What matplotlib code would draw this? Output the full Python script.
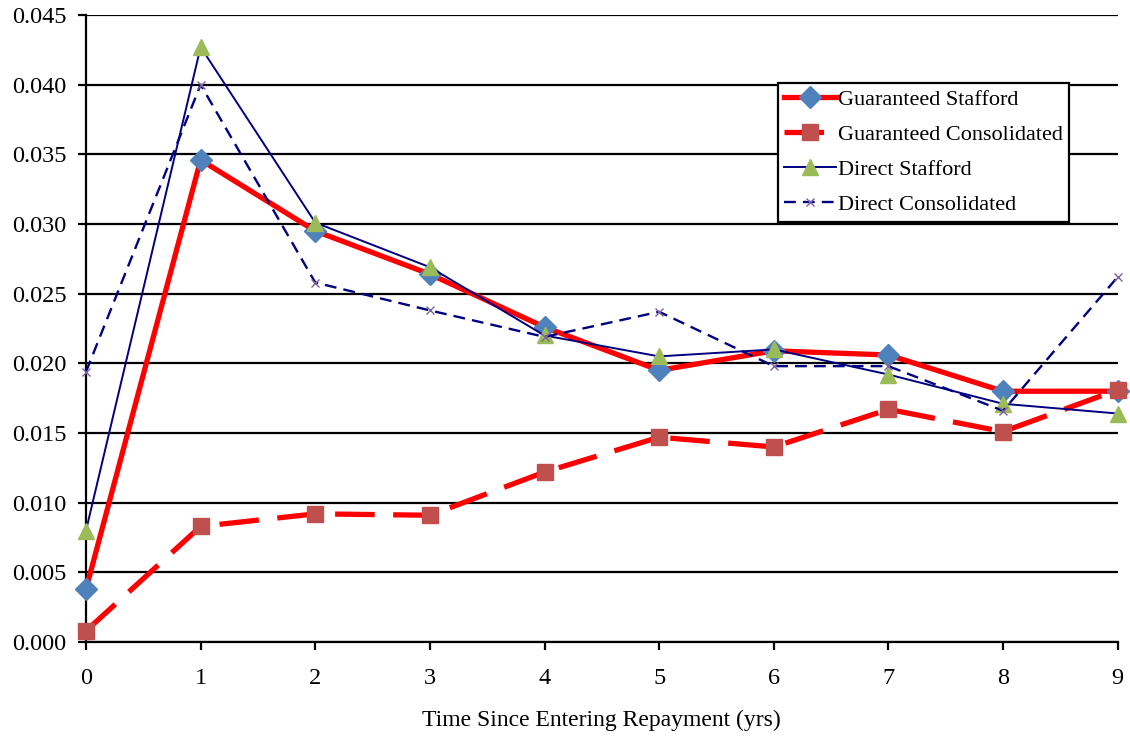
import matplotlib.pyplot as plt
import numpy as np

plt.rcParams['font.family'] = ['Liberation Serif', 'DejaVu Serif']

years = np.arange(10)

guar_stafford = [0.0038, 0.0346, 0.0295, 0.0264, 0.0226, 0.0195, 0.0209, 0.0206, 0.0180, 0.0180]
guar_consol = [0.0008, 0.0083, 0.0092, 0.0091, 0.0122, 0.0147, 0.0140, 0.0167, 0.0151, 0.0181]
direct_stafford = [0.0080, 0.0427, 0.0301, 0.0269, 0.0220, 0.0205, 0.0210, 0.0192, 0.0171, 0.0164]
direct_consol = [0.0194, 0.0400, 0.0258, 0.0238, 0.0219, 0.0237, 0.0198, 0.0198, 0.0166, 0.0262]

fig = plt.figure(figsize=(11.3, 7.38), dpi=100)
ax = fig.add_axes([0.0761, 0.130, 0.913, 0.8497])

ax.plot(years, guar_stafford, color='#FF0000', lw=3.8, marker='D', ms=11,
        mfc='#4F81BD', mec='#4F81BD', label='Guaranteed Stafford', zorder=3, clip_on=False)
ax.plot(years, guar_consol, color='#FF0000', lw=3.8, ls=(0, (7.5, 3.5)), marker='s', ms=12,
        mfc='#C0504D', mec='#C0504D', label='Guaranteed Consolidated', zorder=4, clip_on=False)
ax.plot(years, direct_stafford, color='#000080', lw=1.4, marker='^', ms=11,
        mfc='#9BBB59', mec='#9BBB59', label='Direct Stafford', zorder=5, clip_on=False)
ax.plot(years, direct_consol, color='#000080', lw=1.7, ls=(0, (5, 3)), marker='x', ms=6,
        mew=1, mec='#8064A2', label='Direct Consolidated', zorder=6, clip_on=False)

ax.set_xlim(0, 9)
ax.set_ylim(0, 0.045)
ax.set_xticks(years)
ax.set_yticks(np.arange(0, 0.0451, 0.005))
ax.yaxis.set_major_formatter(plt.FormatStrFormatter('%.3f'))
ax.grid(axis='y', color='black', lw=1.6)
ax.set_axisbelow(True)
for s in ['top', 'right']:
    ax.spines[s].set_visible(False)
for s in ['left', 'bottom']:
    ax.spines[s].set_linewidth(1.6)
ax.tick_params(axis='both', labelsize=17.5, width=1.6, length=6, direction='out')
ax.tick_params(axis='x', pad=13)
ax.tick_params(axis='y', pad=8)
ax.set_xlabel('Time Since Entering Repayment (yrs)', fontsize=17, labelpad=15)

leg = ax.legend(loc='upper left', bbox_to_anchor=(0.6705, 0.8915), fontsize=16,
                fancybox=False, edgecolor='black', framealpha=1, handlelength=2.3,
                borderpad=0.3, labelspacing=0.65, handletextpad=0.1, borderaxespad=0)
leg.get_frame().set_linewidth(1.6)

plt.savefig('out.png', dpi=100)
